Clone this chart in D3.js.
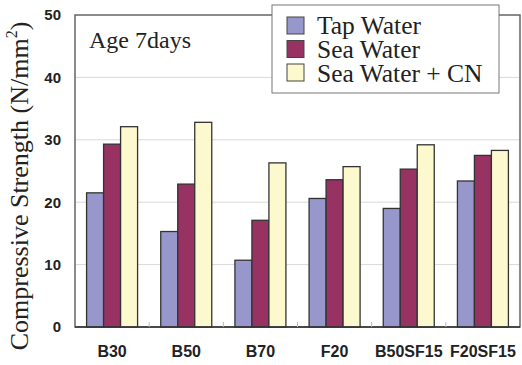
<!DOCTYPE html>
<html>
<head>
<meta charset="utf-8">
<script src="https://d3js.org/d3.v7.min.js"></script>
<style>
  body { margin: 0; background: white; }
  svg { display: block; }
  .serif { font-family: "Liberation Serif", "Times New Roman", serif; }
  .sans { font-family: "Liberation Sans", Arial, sans-serif; font-weight: bold; }
</style>
</head>
<body>
<script>
let categories = ['B30', 'B50', 'B70', 'F20', 'B50SF15', 'F20SF15']
let seriesNames = ['Tap Water', 'Sea Water', 'Sea Water + CN']
let tapWater = [21.5, 15.3, 10.7, 20.6, 19.0, 23.4]
let seaWater = [29.3, 22.9, 17.1, 23.6, 25.3, 27.5]
let seaWaterCN = [32.1, 32.8, 26.3, 25.7, 29.2, 28.3]
let yTicks = [0, 10, 20, 30, 40, 50]
let colors = ['#9797cb', '#983262', '#fdf9cf']

let width = 522, height = 365
let plotLeft = 75, plotRight = 520, plotTop = 15, plotBottom = 327

let svg = d3.select('body').append('svg')
    .attr('width', width)
    .attr('height', height)

let x = d3.scaleBand().domain(categories).range([plotLeft, plotRight])
let xInner = d3.scaleBand().domain(seriesNames).range([0, 51])
let y = d3.scaleLinear().domain([0, 50]).range([plotBottom, plotTop])

// gridlines
svg.append('g').selectAll('line')
    .data(yTicks.filter(d => d > 0 && d < 50))
    .enter().append('line')
    .attr('x1', plotLeft).attr('x2', plotRight)
    .attr('y1', d => y(d)).attr('y2', d => y(d))
    .attr('stroke', '#d9d9d9').attr('stroke-width', 1)

// plot frame
svg.append('rect')
    .attr('x', plotLeft).attr('y', plotTop)
    .attr('width', plotRight - plotLeft).attr('height', plotBottom - plotTop)
    .attr('fill', 'none').attr('stroke', '#666').attr('stroke-width', 1.5)

// bars
let series = [tapWater, seaWater, seaWaterCN]
series.forEach((vals, si) => {
    svg.append('g').selectAll('rect')
        .data(vals)
        .enter().append('rect')
        .attr('x', (d, i) => x(categories[i]) + (x.bandwidth() - 51) / 2 + xInner(seriesNames[si]))
        .attr('y', d => y(d))
        .attr('width', xInner.bandwidth())
        .attr('height', d => plotBottom - y(d))
        .attr('fill', colors[si])
        .attr('stroke', '#333')
        .attr('stroke-width', 1.3)
})

// x axis line and inner ticks between categories
svg.append('line')
    .attr('x1', plotLeft).attr('x2', plotRight)
    .attr('y1', plotBottom).attr('y2', plotBottom)
    .attr('stroke', '#333').attr('stroke-width', 1.5)
svg.append('g').selectAll('line')
    .data(categories.slice(1))
    .enter().append('line')
    .attr('x1', d => x(d)).attr('x2', d => x(d))
    .attr('y1', plotBottom).attr('y2', plotBottom - 5)
    .attr('stroke', '#bbb')

// y tick labels
let yAxis = svg.append('g')
    .attr('transform', `translate(${plotLeft},0)`)
    .call(d3.axisLeft(y).tickValues(yTicks).tickSize(0).tickPadding(14))
yAxis.attr('font-family', null).attr('font-size', null)
yAxis.select('.domain').remove()
yAxis.selectAll('text')
    .attr('class', 'sans')
    .style('font-size', '15px')
    .attr('fill', '#222')

// x tick labels
let xAxis = svg.append('g')
    .attr('transform', `translate(0,${plotBottom})`)
    .call(d3.axisBottom(x).tickSize(0).tickPadding(19))
xAxis.attr('font-family', null).attr('font-size', null)
xAxis.select('.domain').remove()
xAxis.selectAll('text')
    .attr('class', 'sans')
    .style('font-size', '16px')
    .attr('fill', '#222')

// y axis title
let yTitle = svg.append('text')
    .attr('class', 'serif')
    .attr('transform', 'translate(28,186) rotate(-90)')
    .attr('text-anchor', 'middle')
    .style('font-size', '26px')
    .attr('fill', '#222')
yTitle.append('tspan').text('Compressive Strength (N/mm')
yTitle.append('tspan').text('2').style('font-size', '16px').attr('dy', -11)
yTitle.append('tspan').text(')').attr('dy', 11)

// age label
svg.append('text')
    .attr('class', 'serif')
    .attr('x', 89).attr('y', 48)
    .style('font-size', '24px')
    .attr('fill', '#222')
    .text('Age 7days')

// legend
let legend = svg.append('g')
legend.append('rect')
    .attr('x', 272).attr('y', 5)
    .attr('width', 227).attr('height', 88)
    .attr('fill', 'white').attr('stroke', '#777').attr('stroke-width', 1)
seriesNames.forEach((name, i) => {
    legend.append('rect')
        .attr('x', 287).attr('y', 17 + i * 23.5)
        .attr('width', 17).attr('height', 17)
        .attr('fill', colors[i]).attr('stroke', '#444').attr('stroke-width', 1)
    legend.append('text')
        .attr('class', 'serif')
        .attr('x', 317).attr('y', 34 + i * 23.8)
        .style('font-size', '25.5px')
        .attr('fill', '#222')
        .text(name)
})
</script>
</body>
</html>
